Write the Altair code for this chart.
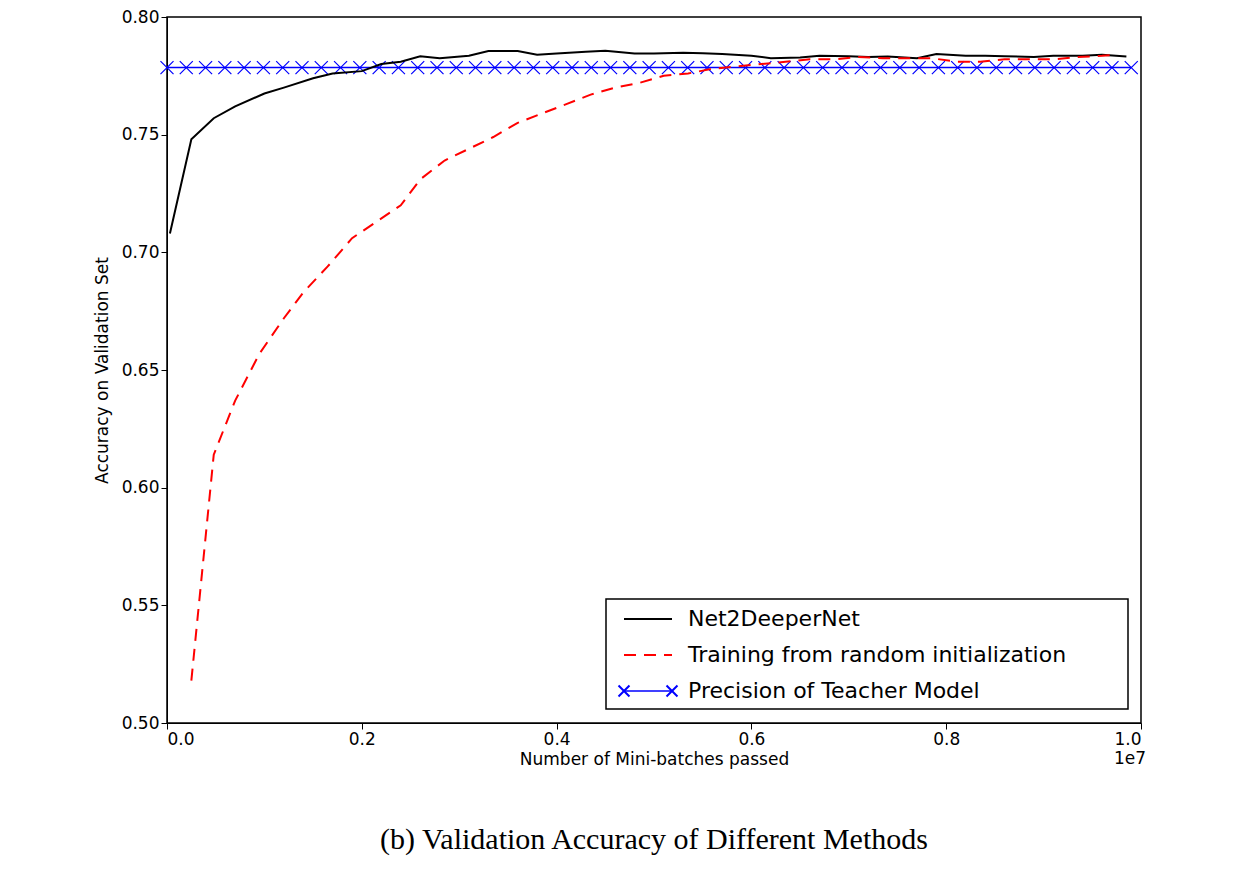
import numpy as np
import pandas as pd
import altair as alt

# x in units of 1e7 mini-batches
deeper_x = [0.003, 0.025, 0.048, 0.07, 0.10, 0.12, 0.15, 0.17, 0.20, 0.22, 0.24, 0.26, 0.28, 0.31,
            0.33, 0.36, 0.38, 0.40, 0.43, 0.45, 0.48, 0.50, 0.53, 0.55, 0.57, 0.60, 0.62, 0.65,
            0.67, 0.70, 0.72, 0.74, 0.77, 0.79, 0.82, 0.84, 0.86, 0.89, 0.91, 0.94, 0.96, 0.985]
deeper_y = [0.708, 0.748, 0.757, 0.762, 0.7675, 0.770, 0.774, 0.776, 0.777, 0.780, 0.781, 0.7833,
            0.7825, 0.7835, 0.7855, 0.7855, 0.784, 0.7845, 0.7852, 0.7857, 0.7845, 0.7845, 0.7848,
            0.7846, 0.7843, 0.7835, 0.7825, 0.7828, 0.7835, 0.7833, 0.7830, 0.7832, 0.7825, 0.7843,
            0.7835, 0.7835, 0.7833, 0.7830, 0.7835, 0.7835, 0.7840, 0.7832]
random_x = [0.025, 0.048, 0.07, 0.095, 0.12, 0.14, 0.165, 0.19, 0.215, 0.24, 0.26, 0.285, 0.31,
            0.335, 0.36, 0.385, 0.41, 0.435, 0.46, 0.485, 0.51, 0.535, 0.56, 0.585, 0.61, 0.635,
            0.66, 0.685, 0.71, 0.735, 0.76, 0.785, 0.81, 0.835, 0.86, 0.885, 0.91, 0.935, 0.96, 0.975]
random_y = [0.518, 0.614, 0.637, 0.657, 0.672, 0.683, 0.694, 0.706, 0.713, 0.720, 0.731, 0.739,
            0.744, 0.749, 0.755, 0.759, 0.763, 0.767, 0.770, 0.772, 0.775, 0.776, 0.778, 0.779,
            0.780, 0.781, 0.782, 0.782, 0.783, 0.7825, 0.7825, 0.7825, 0.781, 0.781, 0.782, 0.782,
            0.782, 0.783, 0.7835, 0.784]
teacher_x = list(np.round(np.linspace(0, 0.99, 51), 4))
teacher_acc = 0.7785

W, H = 974, 706
FONT = "DejaVu Sans"

xs = alt.Scale(domain=[0, 1.0], nice=False, padding=0)
ys = alt.Scale(domain=[0.5, 0.8], nice=False, padding=0)
xax = alt.Axis(values=[0, 0.2, 0.4, 0.6, 0.8, 1.0], format=".1f", title="Number of Mini-batches passed",
               labelFontSize=17, titleFontSize=17, titleFontWeight="normal", grid=False,
               labelFont=FONT, titleFont=FONT, titlePadding=4)
yax = alt.Axis(values=[0.5, 0.55, 0.6, 0.65, 0.7, 0.75, 0.8], format=".2f", title="Accuracy on Validation Set",
               labelFontSize=17, titleFontSize=17, titleFontWeight="normal", grid=False,
               labelFont=FONT, titleFont=FONT, titlePadding=10)

d1 = pd.DataFrame({"x": deeper_x, "y": deeper_y})
d2 = pd.DataFrame({"x": random_x, "y": random_y})
d3 = pd.DataFrame({"x": teacher_x, "y": [teacher_acc] * len(teacher_x)})

black = alt.Chart(d1).mark_line(color="black", strokeWidth=2).encode(
    x=alt.X("x:Q", scale=xs, axis=xax), y=alt.Y("y:Q", scale=ys, axis=yax))
red = alt.Chart(d2).mark_line(color="red", strokeWidth=2, strokeDash=[12, 8]).encode(
    x=alt.X("x:Q", scale=xs), y=alt.Y("y:Q", scale=ys))
blue_line = alt.Chart(d3).mark_line(color="blue", strokeWidth=1.5).encode(
    x=alt.X("x:Q", scale=xs), y=alt.Y("y:Q", scale=ys))
xpath = "M-1,-1L1,1M-1,1L1,-1"
blue_pts = alt.Chart(d3).mark_point(shape=xpath, color="blue", size=170, strokeWidth=1.2, filled=False,
                                    opacity=1).encode(
    x=alt.X("x:Q", scale=xs), y=alt.Y("y:Q", scale=ys))

# legend drawn manually
leg_df = pd.DataFrame({"label": ["Net2DeeperNet", "Training from random initialization", "Precision of Teacher Model"],
                       "py": [602, 638, 674]})
box = alt.Chart(pd.DataFrame({"a": [0]})).mark_rect(fill="white", stroke="black", strokeWidth=1.5).encode(
    x=alt.value(439), x2=alt.value(961), y=alt.value(582), y2=alt.value(692))
texts = alt.Chart(leg_df).mark_text(align="left", baseline="middle", fontSize=22, font=FONT, color="black").encode(
    x=alt.value(521), y=alt.Y("py:Q", scale=None, axis=None), text="label:N")
l1 = alt.Chart(pd.DataFrame({"a": [0]})).mark_rule(color="black", strokeWidth=2).encode(
    x=alt.value(457), x2=alt.value(505), y=alt.value(602))
l2 = alt.Chart(pd.DataFrame({"a": [0]})).mark_rule(color="red", strokeWidth=2, strokeDash=[12, 8]).encode(
    x=alt.value(457), x2=alt.value(505), y=alt.value(638))
l3 = alt.Chart(pd.DataFrame({"a": [0]})).mark_rule(color="blue", strokeWidth=1.5).encode(
    x=alt.value(457), x2=alt.value(505), y=alt.value(674))
m3 = alt.Chart(pd.DataFrame({"px": [457, 505]})).mark_point(shape=xpath, color="blue", size=120, filled=False,
                                                           opacity=1).encode(
    x=alt.X("px:Q", scale=None, axis=None), y=alt.value(674))
exp = alt.Chart(pd.DataFrame({"t": ["1e7"]})).mark_text(align="right", baseline="top", fontSize=17, font=FONT).encode(
    x=alt.value(W + 5), y=alt.value(H + 28), text="t:N")

chart = alt.layer(blue_line, blue_pts, black, red, box, l1, l2, l3, m3, texts, exp).properties(
    width=W, height=H,
    title=alt.TitleParams("(b)  Validation Accuracy of Different Methods", orient="bottom", font="Liberation Serif",
                          fontSize=30, fontWeight="normal", offset=58),
    padding={"left": 85, "top": 0, "right": 100, "bottom": 10},
).configure_view(stroke="black", strokeWidth=1.5).configure_axis(
    domainColor="black", tickColor="black", labelColor="black", titleColor="black", tickSize=6)

chart.save("out.html", embed_options={"renderer": "svg", "actions": False})
